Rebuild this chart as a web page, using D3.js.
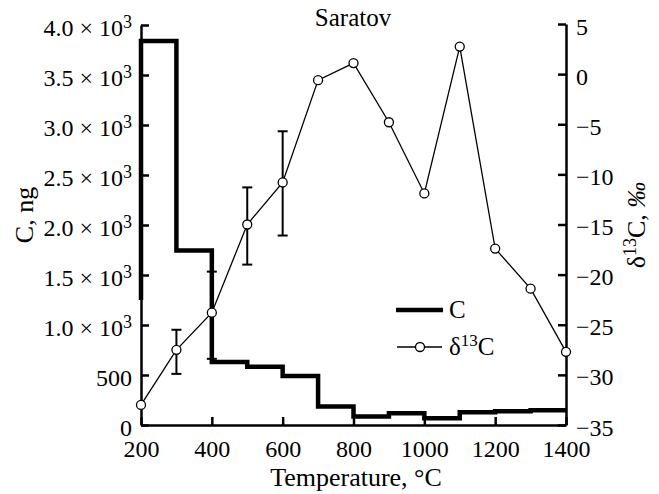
<html>
<head>
<title>Saratov</title>
<style>
  body { margin: 0; background: #fff; }
  text { font-family: "Liberation Serif", "DejaVu Serif", serif; fill: #000; }
</style>
</head>
<body>
<script src="https://d3js.org/d3.v7.min.js"></script>
<script>
var w = 659, h = 494;

// step series C (ng), one bin per 100 degC
var binEdges = [200, 300, 400, 500, 600, 700, 800, 900, 1000, 1100, 1200, 1300, 1400];
var cValues = [3840, 1745, 630, 583, 490, 185, 85, 117, 67, 127, 137, 147];
var cStart = 1250;

// delta13C series
var dTemp = [200, 300, 400, 500, 600, 700, 800, 900, 1000, 1100, 1200, 1300, 1400];
var dValues = [-33.0, -27.5, -23.8, -15.0, -10.8, -0.6, 1.1, -4.8, -11.9, 2.75, -17.4, -21.4, -27.7];
var errTemp = [300, 400, 500, 600];
var errLow = [-29.9, -28.4, -19.0, -16.1];
var errHigh = [-25.5, -19.7, -11.3, -5.7];

var xTicks = [200, 400, 600, 800, 1000, 1200, 1400];
var cTicks = [0, 500, 1000, 1500, 2000, 2500, 3000, 3500, 4000];
var dTicks = [5, 0, -5, -10, -15, -20, -25, -30, -35];

var pLeft = 141, pRight = 566, pTop = 25, pBottom = 425;

var svg = d3.select('body').append('svg')
  .attr('width', w).attr('height', h);

var x = d3.scaleLinear().domain([200, 1400]).range([pLeft, pRight]);
var yC = d3.scaleLinear().domain([0, 4000]).range([pBottom, pTop]);
var yD = d3.scaleLinear().domain([-35, 5]).range([pBottom, pTop - 1]);

function styleAxis(g) {
  g.attr('font-family', null);
  g.select('.domain').attr('stroke', '#000').attr('stroke-width', 2.5);
  g.selectAll('.tick line').attr('stroke', '#000').attr('stroke-width', 2.5);
  g.selectAll('.tick text').attr('font-size', 24);
}

// bottom axis
var gx = svg.append('g').attr('transform', 'translate(0,' + pBottom + ')')
  .call(d3.axisBottom(x).tickValues(xTicks).tickSizeInner(-8).tickSizeOuter(0).tickPadding(15)
    .tickFormat(d3.format('d')));
styleAxis(gx);

// left axis
var gl = svg.append('g').attr('transform', 'translate(' + pLeft + ',0)')
  .call(d3.axisLeft(yC).tickValues(cTicks).tickSizeInner(-8).tickSizeOuter(0).tickPadding(9));
styleAxis(gl);
gl.selectAll('.tick text').attr('dy', '0.42em').each(function(d) {
  var t = d3.select(this);
  if (d < 1000) { t.text(d); return; }
  t.text('');
  t.append('tspan').text((d / 1000).toFixed(1) + ' \u00d7 10');
  t.append('tspan').attr('dy', -8).attr('font-size', 18).text('3');
});

// right axis
var gr = svg.append('g').attr('transform', 'translate(' + pRight + ',0)')
  .call(d3.axisRight(yD).tickValues(dTicks).tickSizeInner(-8).tickSizeOuter(0).tickPadding(10)
    .tickFormat(function(d) { return d < 0 ? '\u2212' + Math.abs(d) : d; }));
styleAxis(gr);
gr.selectAll('.tick text').attr('dy', '0.42em');

// C step line
var stepPts = [[binEdges[0], cStart]];
cValues.forEach(function(v, i) {
  stepPts.push([binEdges[i], v]);
  stepPts.push([binEdges[i + 1], v]);
});
svg.append('path')
  .attr('d', d3.line().x(function(d) { return x(d[0]); }).y(function(d) { return yC(d[1]); })(stepPts))
  .attr('fill', 'none').attr('stroke', '#000').attr('stroke-width', 4.5)
  .attr('stroke-linejoin', 'miter').attr('stroke-linecap', 'butt');

// error bars
errTemp.forEach(function(t, i) {
  var g = svg.append('g').attr('stroke', '#000').attr('stroke-width', 2);
  g.append('line').attr('x1', x(t)).attr('x2', x(t)).attr('y1', yD(errLow[i])).attr('y2', yD(errHigh[i]));
  [errLow[i], errHigh[i]].forEach(function(v) {
    g.append('line').attr('x1', x(t) - 5).attr('x2', x(t) + 5).attr('y1', yD(v)).attr('y2', yD(v));
  });
});

// delta13C line + markers
svg.append('path')
  .attr('d', d3.line().x(function(d, i) { return x(dTemp[i]); }).y(function(d) { return yD(d); })(dValues))
  .attr('fill', 'none').attr('stroke', '#000').attr('stroke-width', 1.3);
svg.selectAll('circle.pt').data(dValues).enter().append('circle')
  .attr('class', 'pt')
  .attr('cx', function(d, i) { return x(dTemp[i]); })
  .attr('cy', function(d) { return yD(d); })
  .attr('r', 4.5).attr('fill', '#fff').attr('stroke', '#000').attr('stroke-width', 1.3);

// legend
svg.append('line').attr('x1', 396).attr('x2', 443).attr('y1', 310).attr('y2', 310)
  .attr('stroke', '#000').attr('stroke-width', 4.5);
svg.append('text').attr('x', 449).attr('y', 318).attr('font-size', 25).text('C');
svg.append('line').attr('x1', 397).attr('x2', 442).attr('y1', 347).attr('y2', 347)
  .attr('stroke', '#000').attr('stroke-width', 1.3);
svg.append('circle').attr('cx', 420).attr('cy', 347).attr('r', 4.5)
  .attr('fill', '#fff').attr('stroke', '#000').attr('stroke-width', 1.3);
var lt = svg.append('text').attr('x', 449).attr('y', 355).attr('font-size', 25);
lt.append('tspan').text('\u03b4');
lt.append('tspan').attr('dy', -9).attr('font-size', 17).text('13');
lt.append('tspan').attr('dy', 9).text('C');

// titles
svg.append('text').attr('x', 353).attr('y', 26).attr('text-anchor', 'middle')
  .attr('font-size', 25).text('Saratov');
svg.append('text').attr('x', 356).attr('y', 486).attr('text-anchor', 'middle')
  .attr('font-size', 26).text('Temperature, \u00b0C');
svg.append('text').attr('transform', 'translate(33,215) rotate(-90)')
  .attr('text-anchor', 'middle').attr('font-size', 26).text('C, ng');
var rl = svg.append('text').attr('transform', 'translate(645,225) rotate(-90)')
  .attr('text-anchor', 'middle').attr('font-size', 26);
rl.append('tspan').text('\u03b4');
rl.append('tspan').attr('dy', -9).attr('font-size', 18).text('13');
rl.append('tspan').attr('dy', 9).text('C, ');
rl.append('tspan').attr('font-style', 'italic').text('\u2030');
</script>
</body>
</html>
